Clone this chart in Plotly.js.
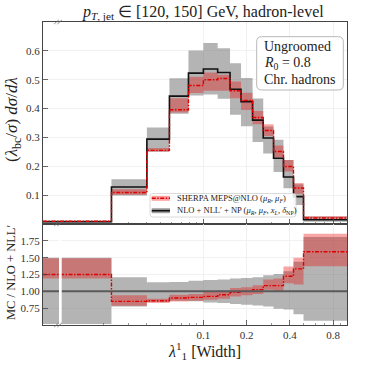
<!DOCTYPE html>
<html>
<head>
<meta charset="utf-8">
<script src="https://cdn.plot.ly/plotly-3.0.1.min.js"></script>
<style>
  html, body { margin: 0; padding: 0; background: #fff; }
  #chart { width: 366px; height: 366px; }
</style>
</head>
<body>
<div id="chart"></div>
<script>
// bin edges in lambda_1^1; the first bin really starts at 0, it sits left of the axis break
const binEdges = [0.00764, 0.0229, 0.0404, 0.058, 0.0787, 0.1, 0.1257, 0.1533, 0.1828,
                  0.22, 0.261, 0.308, 0.361, 0.424, 0.498, 1.0];

// upper panel, NLO + NLL' + NP (black line, grey band)
const nloMid = [0.008, 0.128, 0.294, 0.443, 0.523, 0.537, 0.525, 0.467, 0.424, 0.360, 0.298, 0.228, 0.163, 0.095, 0.0145];
const nloLo  = [0.004, 0.099, 0.250, 0.382, 0.445, 0.449, 0.434, 0.379, 0.339, 0.284, 0.244, 0.180, 0.124, 0.066, 0.008];
const nloHi  = [0.012, 0.155, 0.334, 0.505, 0.601, 0.627, 0.609, 0.557, 0.506, 0.435, 0.338, 0.292, 0.222, 0.138, 0.026];

// upper panel, SHERPA MEPS@NLO (red dash-dot, red band)
const shMid = [0.0095, 0.109, 0.255, 0.396, 0.480, 0.500, 0.504, 0.462, 0.428, 0.369, 0.324, 0.251, 0.199, 0.125, 0.021];
const shLo  = [0.0085, 0.101, 0.251, 0.386, 0.454, 0.462, 0.462, 0.436, 0.395, 0.346, 0.305, 0.231, 0.182, 0.105, 0.019];
const shHi  = [0.0115, 0.120, 0.263, 0.436, 0.510, 0.525, 0.517, 0.494, 0.455, 0.392, 0.346, 0.272, 0.222, 0.142, 0.027];

// lower panel, MC / NLO + NLL'
const ratioMid   = [1.25, 0.851, 0.861, 0.90, 0.91, 0.925, 0.95, 0.985, 1.0, 1.025, 1.085, 1.085, 1.224, 1.334, 1.588];
const ratioShLo  = [1.19, 0.787, 0.827, 0.85, 0.86, 0.875, 0.89, 0.925, 0.94, 0.96, 1.025, 1.01, 1.12, 1.10, 1.373];
const ratioShHi  = [1.49, 0.94, 0.89, 0.95, 0.96, 0.99, 1.01, 1.05, 1.06, 1.09, 1.174, 1.19, 1.37, 1.50, 1.857];
const ratioNloLo = [0.515, 0.776, 0.84, 0.861, 0.851, 0.836, 0.826, 0.811, 0.80, 0.79, 0.776, 0.741, 0.73, 0.66, 0.563];
const ratioNloHi = [1.50, 1.209, 1.134, 1.139, 1.159, 1.169, 1.174, 1.189, 1.199, 1.209, 1.239, 1.259, 1.30, 1.44, 1.806];

// tick labels
const xTickVals  = [0.1, 0.2, 0.4, 0.8];
const xMinorVals = [0.02, 0.03, 0.04, 0.05, 0.06, 0.07, 0.08, 0.09, 0.3, 0.5, 0.6, 0.7, 0.9];
const yTickVals  = [0.1, 0.2, 0.3, 0.4, 0.5, 0.6];
const rTickVals  = [0.75, 1.0, 1.25, 1.5, 1.75];
const rTickText  = ['0.75', '1.00', '1.25', '1.50', '1.75'];

const FONT = 'Liberation Serif, Times New Roman, serif';
const RED = 'rgb(222,0,0)';
const GREY_BAND = 'rgba(105,105,105,0.5)';
const RED_BAND = 'rgba(235,20,20,0.38)';
const DASHDOT = '4px,1.5px,1.5px,1.5px';

// pixel -> paper helpers (plot area is 43..347 x 22..325)
const pxX = p => (p - 43) / 304;
const pxY = p => (325 - p) / 303;

function stepY(vals) {
  return vals.concat([vals[vals.length - 1]]);
}

function band(lo, hi, color, xa, ya) {
  return [
    { x: binEdges, y: stepY(lo), xaxis: xa, yaxis: ya, mode: 'lines',
      line: { shape: 'hv', width: 0 }, hoverinfo: 'skip', showlegend: false },
    { x: binEdges, y: stepY(hi), xaxis: xa, yaxis: ya, mode: 'lines',
      line: { shape: 'hv', width: 0 }, fill: 'tonexty', fillcolor: color,
      hoverinfo: 'skip', showlegend: false }
  ];
}

function stepLine(vals, color, width, dash, xa, ya) {
  return { x: binEdges, y: stepY(vals), xaxis: xa, yaxis: ya, mode: 'lines',
           line: { shape: 'hv', color: color, width: width, dash: dash },
           hoverinfo: 'skip', showlegend: false };
}

const traces = [].concat(
  band(nloLo, nloHi, GREY_BAND, 'x', 'y'),
  band(shLo, shHi, RED_BAND, 'x', 'y'),
  [stepLine(nloMid, '#111', 1.6, 'solid', 'x', 'y'),
   stepLine(shMid, RED, 1.4, DASHDOT, 'x', 'y')],
  band(ratioNloLo, ratioNloHi, GREY_BAND, 'x2', 'y2'),
  band(ratioShLo, ratioShHi, RED_BAND, 'x2', 'y2'),
  [stepLine(ratioMid, RED, 1.4, DASHDOT, 'x2', 'y2')]
);

function roundRect(x0, y0, x1, y1, r) {
  const p = (x, y) => pxX(x) + ',' + pxY(y);
  return 'M ' + p(x0 + r, y0) + ' L ' + p(x1 - r, y0) + ' Q ' + p(x1, y0) + ' ' + p(x1, y0 + r) +
         ' L ' + p(x1, y1 - r) + ' Q ' + p(x1, y1) + ' ' + p(x1 - r, y1) +
         ' L ' + p(x0 + r, y1) + ' Q ' + p(x0, y1) + ' ' + p(x0, y1 - r) +
         ' L ' + p(x0, y0 + r) + ' Q ' + p(x0, y0) + ' ' + p(x0 + r, y0) + ' Z';
}

function paperLine(x0, y0, x1, y1, color, width, dash) {
  return { type: 'line', xref: 'paper', yref: 'paper',
           x0: pxX(x0), y0: pxY(y0), x1: pxX(x1), y1: pxY(y1),
           line: { color: color, width: width, dash: dash || 'solid' } };
}

function paperRect(x0, y0, x1, y1, fill) {
  return { type: 'rect', xref: 'paper', yref: 'paper',
           x0: pxX(x0), y0: pxY(y0), x1: pxX(x1), y1: pxY(y1),
           fillcolor: fill, line: { width: 0 } };
}

const shapes = [
  // reference line at 1 in the ratio panel
  { type: 'line', xref: 'x2 domain', x0: 0, x1: 1, yref: 'y2', y0: 1, y1: 1,
    line: { color: '#5a5a5a', width: 2 } },
  // axis break gap in the ratio panel
  paperRect(59, 225.5, 61.7, 324.5, '#ffffff'),
  // text box
  { type: 'path', xref: 'paper', yref: 'paper', path: roundRect(256.7, 36.7, 343.3, 90, 5),
    fillcolor: 'rgba(255,255,255,0.9)', line: { color: '#b8b8b8', width: 1 } },
  // legend box
  { type: 'path', xref: 'paper', yref: 'paper', path: roundRect(150, 193.5, 296, 217, 3),
    fillcolor: 'rgba(255,255,255,0.85)', line: { color: '#d0d0d0', width: 0.8 } },
  paperRect(151.7, 195.8, 170, 200.8, 'rgba(255,150,150,0.9)'),
  paperLine(151.7, 198.3, 170, 198.3, RED, 1.4, DASHDOT),
  paperRect(151.7, 208.2, 170, 213.2, 'rgba(150,150,150,0.9)'),
  paperLine(151.7, 210.7, 170, 210.7, '#111', 1.6)
];

// broken-axis marks "//"
[22, 224, 325].forEach(function (cy) {
  [-1.6, 1.6].forEach(function (dx) {
    shapes.push(paperLine(58 + dx - 2.2, cy + 2, 58 + dx + 2.2, cy - 2, '#666', 0.8));
  });
});

function textAt(x, y, text, size, opts) {
  return Object.assign({ xref: 'paper', yref: 'paper', x: pxX(x), y: pxY(y), text: text,
    showarrow: false, xanchor: 'left', yanchor: 'middle',
    font: { family: FONT, size: size, color: '#222' } }, opts || {});
}

const annotations = [
  textAt(203, 12, '<i>p</i><sub><i>T</i>, jet</sub> ∈ [120, 150] GeV, hadron-level', 16,
         { xanchor: 'center' }),
  textAt(262, 46.7, 'Ungroomed', 14),
  textAt(262, 63.3, '<i>R</i><sub>0</sub> = 0.8', 14),
  textAt(262, 79.3, 'Chr. hadrons', 14),
  textAt(175, 198.3, 'SHERPA MEPS@NLO (<i>μ<sub>R</sub></i>, <i>μ<sub>F</sub></i>)', 8.5),
  textAt(175, 210.7, 'NLO + NLL′ + NP (<i>μ<sub>R</sub></i>, <i>μ<sub>F</sub></i>, <i>x<sub>L</sub></i>, <i>δ</i><sub>NP</sub>)', 8.5),
  textAt(13, 120, '(<i>λ</i><sub>bc</sub>/<i>σ</i>) <i>dσ</i>/<i>dλ</i>', 17,
         { xanchor: 'center', textangle: -90 }),
  textAt(11, 273, 'MC / NLO + NLL′', 12.5, { xanchor: 'center', textangle: -90 }),
  textAt(204, 351, '<i>λ</i><sup>1</sup><sub>1</sub> [Width]', 16, { xanchor: 'center' })
];

const tickFont = { family: FONT, size: 11, color: '#333' };

const xCommon = {
  type: 'log',
  range: [Math.log10(binEdges[0]), Math.log10(binEdges[binEdges.length - 1])],
  tickmode: 'array',
  tickvals: xTickVals,
  ticktext: xTickVals.map(String),
  ticks: 'inside', ticklen: 5, tickwidth: 0.8, tickcolor: '#444',
  minor: { tickmode: 'array', tickvals: xMinorVals, ticks: 'inside', ticklen: 2.5,
           tickwidth: 0.6, tickcolor: '#555', showgrid: false },
  showgrid: true, gridcolor: '#eeeeee', gridwidth: 0.8,
  showline: true, linecolor: '#444', linewidth: 1, mirror: true,
  zeroline: false, tickfont: tickFont
};

const layout = {
  width: 366,
  height: 366,
  margin: { l: 43, r: 19, t: 22, b: 41 },
  paper_bgcolor: '#ffffff',
  plot_bgcolor: '#ffffff',
  showlegend: false,
  xaxis: Object.assign({}, xCommon, { anchor: 'y', matches: 'x2', showticklabels: false }),
  xaxis2: Object.assign({}, xCommon, { anchor: 'y2' }),
  yaxis: {
    domain: [1 / 3, 1], range: [0, 0.7],
    tickmode: 'array', tickvals: yTickVals, ticktext: yTickVals.map(String),
    ticks: 'inside', ticklen: 5, tickwidth: 0.8, tickcolor: '#444',
    showgrid: true, gridcolor: '#eeeeee', gridwidth: 0.8,
    showline: true, linecolor: '#444', linewidth: 1, mirror: true,
    zeroline: false, tickfont: tickFont
  },
  yaxis2: {
    domain: [0, 1 / 3], range: [0.5, 2.0],
    tickmode: 'array', tickvals: rTickVals, ticktext: rTickText,
    ticks: 'inside', ticklen: 5, tickwidth: 0.8, tickcolor: '#444',
    showgrid: true, gridcolor: '#eeeeee', gridwidth: 0.8,
    showline: true, linecolor: '#444', linewidth: 1, mirror: true,
    zeroline: false, tickfont: tickFont
  },
  shapes: shapes,
  annotations: annotations
};

Plotly.newPlot('chart', traces, layout, { staticPlot: true, displayModeBar: false });
</script>
</body>
</html>
